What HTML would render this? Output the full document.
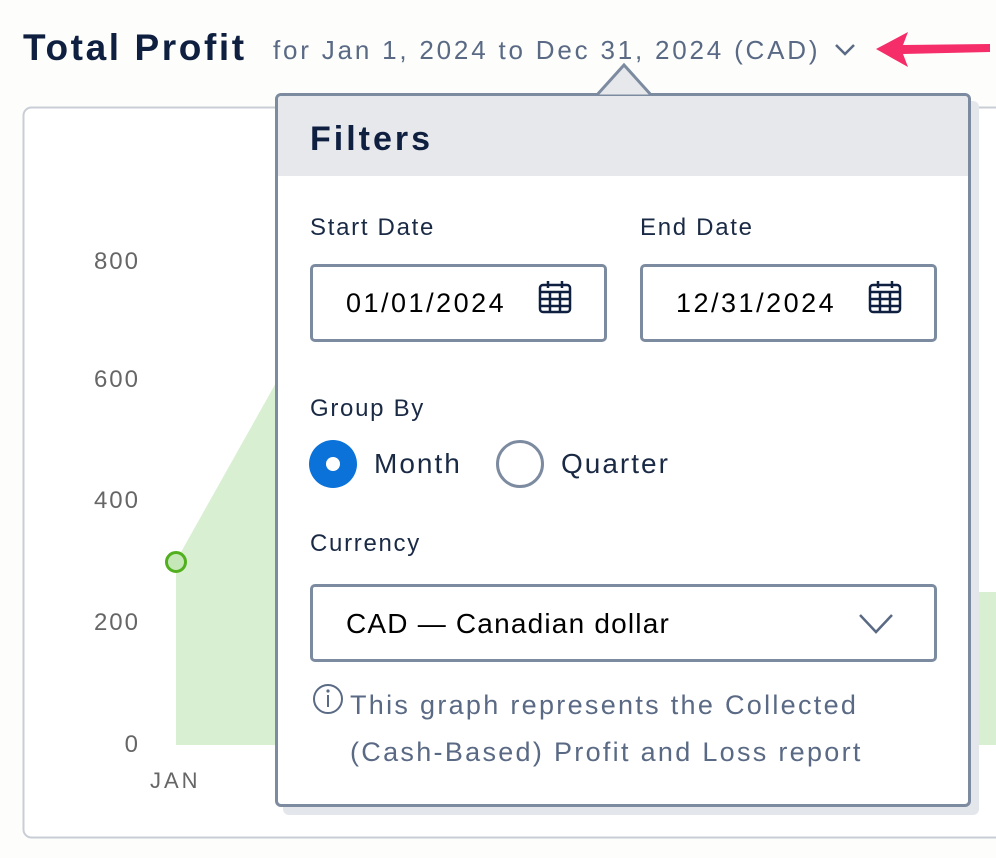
<!DOCTYPE html>
<html><head><meta charset="utf-8"><style>
body{margin:0;width:996px;height:858px;background:#fdfdfc;position:relative;overflow:hidden;font-family:"Liberation Sans",sans-serif;}
.a{position:absolute;white-space:nowrap}
.yl{position:absolute;right:856px;font-size:24px;color:#666;transform:translateY(-50%);letter-spacing:2px}
.lbl{font-size:24px;color:#1a2a45;letter-spacing:1.7px}
.inp{position:absolute;border:3px solid #7d8ba0;border-radius:5px;background:#fff;box-sizing:border-box}
</style></head><body>
<div class="a" style="left:23px;top:27px;font-size:37px;font-weight:bold;color:#0e1f40;letter-spacing:2.6px">Total Profit</div>
<div class="a" style="left:273px;top:35px;font-size:26px;color:#5a6a85;letter-spacing:2.8px">for Jan 1, 2024 to Dec 31, 2024 (CAD)</div>
<svg class="a" style="left:0;top:0" width="996" height="858">
<polyline points="836,45 845,54 854,45" fill="none" stroke="#5a6a85" stroke-width="2.5"/>
<path d="M876,49 L908,32 L903,45 L990,44 L990,52 L903,54 L908,67 Z" fill="#f52d68"/>
<rect x="23.5" y="107.5" width="990" height="730" rx="8" fill="#fff" stroke="#c9ced6" stroke-width="2"/>
<polygon points="176,745 176,561 300,340 300,745" fill="#d9efd2"/>
<rect x="960" y="592" width="40" height="153" fill="#d9efd2"/>
<circle cx="176" cy="562" r="9.5" fill="#c6e8b9" stroke="#52b01e" stroke-width="3"/>
<rect x="283" y="101" width="696" height="714" rx="6" fill="#e3e6ea"/>
</svg>
<div class="yl" style="top:262px">800</div>
<div class="yl" style="top:380px">600</div>
<div class="yl" style="top:501px">400</div>
<div class="yl" style="top:623px">200</div>
<div class="yl" style="top:745px">0</div>
<div class="a" style="left:150px;top:768px;font-size:22px;color:#666;letter-spacing:3px">JAN</div>
<div class="a" style="left:275px;top:93px;width:696px;height:714px;box-sizing:border-box;border:3px solid #7d8ba0;border-radius:6px;background:#fff;overflow:hidden">
<div style="height:80px;background:#e6e8ec"></div>
</div>
<svg class="a" style="left:590px;top:60px" width="70" height="40"><polygon points="6,36 34,5 62,36" fill="#e6e8ec" stroke="#7d8ba0" stroke-width="3"/><rect x="0" y="36" width="70" height="6" fill="#e6e8ec"/></svg>
<div class="a" style="left:310px;top:120px;font-size:34px;font-weight:bold;color:#0e1f40;letter-spacing:3px">Filters</div>
<div class="a lbl" style="left:310px;top:214px">Start Date</div>
<div class="a lbl" style="left:640px;top:214px">End Date</div>
<div class="inp" style="left:310px;top:264px;width:297px;height:78px"></div>
<div class="inp" style="left:640px;top:264px;width:297px;height:78px"></div>
<div class="a" style="left:346px;top:288px;width:168px;overflow:hidden;font-size:27px;color:#000;letter-spacing:2.5px">01/01/2024</div>
<div class="a" style="left:676px;top:288px;width:168px;overflow:hidden;font-size:27px;color:#000;letter-spacing:2.5px">12/31/2024</div>
<svg class="a" style="left:538px;top:280px" width="36" height="36"><g fill="none" stroke="#0e1f40" stroke-width="2.5"><rect x="2" y="5" width="30" height="27" rx="3"/><line x1="2" y1="12" x2="32" y2="12"/><line x1="10" y1="1" x2="10" y2="8"/><line x1="24" y1="1" x2="24" y2="8"/><line x1="12" y1="12" x2="12" y2="32"/><line x1="22" y1="12" x2="22" y2="32"/><line x1="2" y1="19" x2="32" y2="19"/><line x1="2" y1="26" x2="32" y2="26"/></g></svg>
<svg class="a" style="left:868px;top:280px" width="36" height="36"><g fill="none" stroke="#0e1f40" stroke-width="2.5"><rect x="2" y="5" width="30" height="27" rx="3"/><line x1="2" y1="12" x2="32" y2="12"/><line x1="10" y1="1" x2="10" y2="8"/><line x1="24" y1="1" x2="24" y2="8"/><line x1="12" y1="12" x2="12" y2="32"/><line x1="22" y1="12" x2="22" y2="32"/><line x1="2" y1="19" x2="32" y2="19"/><line x1="2" y1="26" x2="32" y2="26"/></g></svg>
<div class="a lbl" style="left:310px;top:395px">Group By</div>
<svg class="a" style="left:305px;top:437px" width="260" height="56"><circle cx="28" cy="27" r="24" fill="#0a72d8"/><circle cx="28" cy="27" r="7" fill="#fff"/><circle cx="215" cy="27" r="22.5" fill="#fff" stroke="#7d8ba0" stroke-width="3"/></svg>
<div class="a" style="left:374px;top:448px;font-size:28px;color:#1a2a45;letter-spacing:2px">Month</div>
<div class="a" style="left:561px;top:448px;font-size:28px;color:#1a2a45;letter-spacing:2px">Quarter</div>
<div class="a lbl" style="left:310px;top:530px">Currency</div>
<div class="inp" style="left:310px;top:584px;width:627px;height:78px"></div>
<div class="a" style="left:346px;top:608px;font-size:28px;color:#000;letter-spacing:1.2px">CAD — Canadian dollar</div>
<svg class="a" style="left:858px;top:612px" width="36" height="24"><polyline points="2,3 18,20 34,3" fill="none" stroke="#5a6a85" stroke-width="2.5"/></svg>
<svg class="a" style="left:312px;top:682px" width="34" height="34"><circle cx="16" cy="17" r="14" fill="none" stroke="#5a6a85" stroke-width="2"/><line x1="16" y1="13" x2="16" y2="25" stroke="#5a6a85" stroke-width="2"/><circle cx="16" cy="9" r="1.6" fill="#5a6a85"/></svg>
<div class="a" style="left:350px;top:682px;font-size:27px;color:#5a6a85;line-height:47px;letter-spacing:2.3px">This graph represents the Collected<br>(Cash-Based) Profit and Loss report</div>
</body></html>
